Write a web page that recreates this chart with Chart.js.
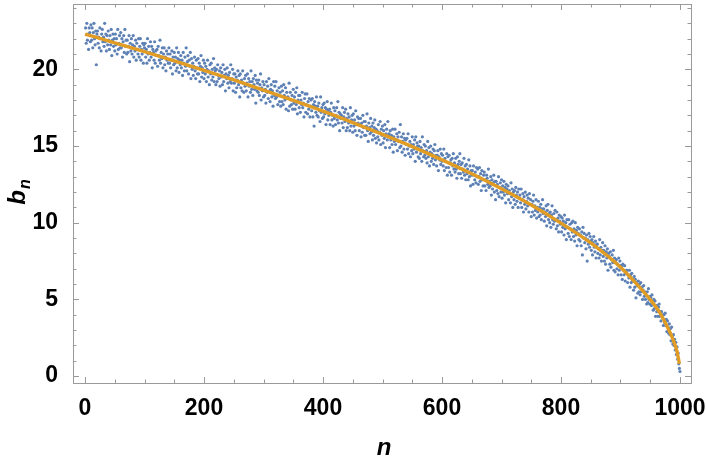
<!DOCTYPE html>
<html>
<head>
<meta charset="utf-8">
<script src="https://cdn.jsdelivr.net/npm/chart.js@4.4.1/dist/chart.umd.min.js"></script>
<style>
  html, body { margin: 0; padding: 0; background: #fff; }
  canvas { display: block; }
</style>
</head>
<body>
<canvas id="chart" width="706" height="463"></canvas>
<script>
// b_n, n = 1..1000, one block per hundred
var b001 = [
  22.7,21.7,23.0,21.9,22.3,21.3,22.7,22.4,21.8,22.9,
  21.9,22.7,21.4,22.4,23.0,22.0,21.6,22.5,20.3,22.3,
  22.5,21.7,22.1,21.4,22.7,22.0,21.2,22.3,22.6,21.8,
  22.1,21.5,23.0,21.8,22.3,21.2,22.2,21.6,22.5,21.9,
  21.3,22.2,21.6,22.6,20.9,21.9,22.3,21.5,22.0,21.2,
  22.3,21.6,22.0,21.0,22.6,21.3,21.7,22.2,21.4,22.4,
  21.4,22.0,20.8,21.8,22.2,21.1,22.6,21.5,21.9,21.0,
  21.9,21.1,21.5,22.2,20.5,21.7,21.2,22.0,21.0,21.6,
  22.2,20.8,21.5,21.2,21.9,20.6,21.7,21.3,21.0,22.0,
  20.8,21.5,22.0,20.6,21.3,21.0,21.7,20.4,21.6,21.4
];
var b101 = [
  21.7,20.8,21.3,20.4,22.0,21.0,21.5,20.6,21.1,21.8,
  20.8,21.5,20.1,21.3,21.1,20.6,21.8,20.4,21.2,20.9,
  21.3,20.2,21.5,20.9,20.6,21.9,20.4,21.1,20.7,21.4,
  20.1,21.0,21.4,20.3,20.8,19.9,21.2,20.6,21.0,20.4,
  21.4,20.4,21.0,20.1,20.6,21.2,19.7,20.8,20.3,21.1,
  20.4,20.8,19.9,21.4,20.1,20.7,21.1,19.8,20.6,20.3,
  20.9,20.1,20.6,19.6,21.1,20.4,19.9,20.8,20.2,21.4,
  19.9,20.5,20.9,19.7,20.6,20.2,21.1,19.4,20.7,20.0,
  20.4,19.6,20.2,20.8,19.9,19.4,20.6,20.1,19.7,20.7,
  19.7,20.4,19.2,20.2,20.9,19.5,20.1,19.8,20.6,19.4
];
var b201 = [
  20.4,19.7,20.2,19.2,20.0,20.6,19.5,19.9,19.0,20.3,
  19.7,20.4,19.3,20.0,19.5,20.7,19.2,20.1,19.9,19.0,
  20.0,19.2,20.3,19.6,19.4,19.9,18.9,20.1,19.5,19.8,
  19.0,20.3,19.2,19.6,20.0,18.6,19.7,19.4,20.1,19.1,
  19.6,18.8,19.8,19.2,20.3,19.1,19.4,20.0,18.6,19.7,
  19.1,19.7,18.5,19.5,18.8,19.3,19.9,19.0,19.6,18.2,
  19.7,18.8,19.3,18.6,19.9,19.1,18.5,19.4,18.9,19.6,
  18.6,19.1,19.7,18.2,19.4,18.9,19.2,18.5,19.9,18.7,
  19.2,18.3,19.4,19.0,18.7,19.6,17.8,19.3,18.6,19.1,
  18.5,19.3,18.3,19.0,19.7,18.0,18.8,18.6,19.2,18.2
];
var b301 = [
  19.0,18.3,18.7,17.8,19.2,18.5,18.9,18.1,19.4,18.6,
  17.9,18.7,19.0,18.2,18.6,17.6,19.2,18.3,18.9,18.1,
  19.2,18.2,18.6,17.7,18.3,18.8,17.9,18.5,17.6,18.9,
  17.9,18.6,17.7,19.0,18.3,18.0,18.8,17.4,18.5,18.1,
  18.2,17.3,19.1,17.6,18.5,18.0,17.7,18.3,17.4,18.7,
  17.8,18.2,17.4,18.5,17.7,18.8,17.1,18.0,18.3,17.5,
  18.3,17.2,18.0,17.7,18.5,17.5,17.8,16.9,18.1,18.4,
  17.2,17.7,18.4,17.1,17.9,17.4,18.1,16.9,17.6,18.0,
  17.3,18.1,16.9,17.7,16.3,17.9,17.6,17.2,18.2,17.0,
  17.6,16.9,17.8,17.3,16.6,18.2,17.2,17.5,16.8,17.7
];
var b401 = [
  16.9,17.8,17.1,17.5,16.4,17.4,17.9,16.7,17.3,17.0,
  17.4,16.4,17.2,17.8,16.7,17.0,16.3,17.5,16.8,17.3,
  16.4,17.0,17.5,16.7,17.9,16.5,17.2,16.0,17.1,16.8,
  17.0,16.5,17.5,16.2,16.9,17.2,16.6,17.4,16.0,16.8,
  16.2,17.1,16.5,16.9,16.0,17.5,16.3,16.7,17.0,15.9,
  17.1,16.3,16.7,16.0,17.3,16.4,15.7,16.9,16.5,16.8,
  16.0,16.4,16.8,15.6,16.5,15.9,17.0,16.2,16.6,15.7,
  16.6,15.7,16.3,17.1,16.0,15.3,16.5,16.2,15.8,16.8,
  15.9,16.3,15.4,16.5,15.7,16.2,16.7,15.5,16.1,15.2,
  16.0,15.6,16.4,15.4,15.9,16.6,15.1,16.1,15.7,16.3
];
var b501 = [
  15.2,16.0,15.5,16.4,14.9,15.8,16.1,15.4,16.6,15.7,
  15.8,14.9,16.0,15.4,15.7,15.1,16.1,14.6,15.6,15.3,
  16.1,15.1,15.4,15.8,14.7,15.6,15.3,15.9,14.9,16.4,
  15.0,15.6,14.6,15.3,15.8,14.8,15.5,14.4,15.4,15.1,
  15.5,14.8,15.8,14.5,15.0,15.3,14.3,15.1,14.7,15.6,
  14.5,15.1,14.8,15.4,14.0,15.6,14.6,15.2,15.0,14.3,
  15.0,14.2,15.3,14.5,14.9,14.0,15.6,14.7,14.3,15.1,
  14.4,15.0,14.2,14.7,13.9,15.3,14.3,14.9,13.7,14.6,
  15.0,14.0,14.5,14.2,14.8,13.8,14.7,15.1,14.1,14.4,
  13.7,14.4,14.7,13.4,14.3,14.1,14.8,13.8,14.5,14.0
];
var b601 = [
  14.4,13.7,14.8,13.4,14.2,14.0,13.6,14.5,13.1,14.3,
  13.6,14.4,13.3,13.9,14.1,13.1,14.2,13.7,14.5,13.5,
  13.9,13.3,14.2,13.5,12.9,14.3,13.8,13.2,14.0,14.5,
  13.2,13.8,12.9,13.9,13.5,13.3,14.2,13.1,13.7,12.8,
  13.8,13.2,13.5,12.8,14.1,13.0,13.7,12.4,13.4,13.1,
  13.4,12.5,13.7,13.1,12.8,13.3,12.6,13.6,13.0,13.5,
  12.5,13.0,13.6,12.7,13.2,12.1,13.4,12.8,12.4,13.1,
  13.3,12.4,12.8,12.1,13.1,12.9,12.5,13.5,12.3,12.7,
  12.4,13.0,11.8,12.8,12.2,12.6,13.1,12.0,12.7,11.5,
  12.7,12.1,12.5,11.9,13.0,11.7,12.3,12.6,12.0,12.8
];
var b701 = [
  11.6,12.4,12.0,12.7,11.8,12.3,11.3,12.5,12.2,11.9,
  12.4,11.5,12.1,11.9,11.3,12.6,11.7,12.2,11.0,12.0,
  11.5,12.1,11.2,12.3,11.8,11.4,12.0,11.0,12.2,11.6,
  11.8,11.3,12.2,11.0,11.5,11.9,10.7,11.7,11.2,12.0,
  10.9,11.4,11.8,11.1,11.6,10.7,11.9,11.2,11.5,10.4,
  11.2,10.7,11.4,11.8,10.5,11.1,10.8,11.5,10.3,11.0,
  10.7,11.4,10.4,11.0,10.5,11.2,10.2,10.9,11.5,10.6,
  10.9,10.1,10.7,10.4,11.1,9.8,10.8,11.2,10.2,10.6,
  10.0,10.7,9.7,10.5,11.1,10.2,9.9,10.6,10.1,10.8,
  10.2,9.6,10.7,9.8,10.3,9.4,10.5,10.1,9.9,10.4
];
var b801 = [
  9.4,10.3,9.7,10.1,9.2,10.5,9.6,10.0,8.9,10.2,
  9.7,9.3,10.2,9.1,9.9,9.6,8.9,10.0,9.4,10.1,
  9.1,9.6,8.8,10.0,9.2,9.5,8.5,9.7,9.3,8.9,
  9.6,8.8,9.2,8.5,9.4,7.9,9.7,9.0,9.3,8.7,
  9.0,8.3,9.2,7.5,8.9,8.6,9.3,8.4,9.1,8.8,
  8.2,8.9,7.9,8.7,9.1,8.4,8.1,8.8,7.7,8.6,
  8.6,8.0,8.3,7.7,8.9,7.9,8.4,7.5,8.2,8.7,
  7.8,8.2,7.5,8.5,7.3,8.1,7.7,8.3,6.9,8.0,
  7.8,7.3,8.1,7.1,7.6,7.9,7.4,8.2,6.9,7.7,
  6.8,7.4,7.6,7.0,7.3,6.6,7.7,6.9,7.5,7.2
];
var b901 = [
  6.6,7.2,6.3,7.3,6.9,6.6,7.2,6.2,6.7,6.9,
  6.9,6.1,6.6,6.4,6.9,5.8,6.6,6.1,6.7,6.2,
  6.3,5.6,6.5,5.8,6.3,5.1,6.1,5.9,5.4,6.2,
  5.5,6.0,5.3,6.1,5.5,5.8,5.0,5.6,5.9,5.2,
  5.5,5.0,5.3,4.7,5.5,4.8,5.7,5.0,4.7,5.2,
  5.1,4.6,5.3,4.8,4.3,5.0,4.4,4.9,3.9,4.6,
  4.2,4.6,3.9,4.5,4.7,3.9,4.2,3.6,4.2,3.9,
  4.0,3.3,4.0,3.5,4.1,3.3,3.7,2.9,3.6,3.2,
  2.8,3.4,2.7,3.1,2.3,3.2,2.6,2.1,2.7,2.0,
  2.4,1.7,2.2,1.4,1.9,1.1,1.5,0.8,0.5,0.3
];
var bValues = [].concat(b001, b101, b201, b301, b401, b501, b601, b701, b801, b901);

// fitted curve, read at these n
var fitN = [0, 50, 100, 150, 200, 250, 300, 350, 400, 450, 500, 550, 600, 650, 700,
            750, 800, 850, 900, 925, 950, 965, 975, 985, 990, 995, 999];
var fitB = [22.3, 21.73, 21.15, 20.55, 19.94, 19.31, 18.65, 17.97, 17.27, 16.53, 15.76,
            14.96, 14.10, 13.19, 12.21, 11.15, 9.97, 8.68, 7.1, 6.1, 4.99, 4.2, 3.5,
            2.7, 2.2, 1.6, 0.8];

var xTickValues = [0, 200, 400, 600, 800, 1000];
var yTickValues = [0, 5, 10, 15, 20];

var blue = '#5e81b5';
var orange = '#e19c24';
var frameColor = '#9a9a9a';
var fontFamily = '"Liberation Sans", Arial, sans-serif';
var tickFont = { family: fontFamily, size: 23, weight: 'bold' };

// frame, inward ticks and the two axis labels
var framePlugin = {
    id: 'frame',
    afterDraw: function (chart) {
        var ctx = chart.ctx;
        var a = chart.chartArea;
        var xs = chart.scales.x, ys = chart.scales.y;
        ctx.save();
        ctx.strokeStyle = frameColor;
        ctx.lineWidth = 1;
        ctx.beginPath();
        for (var v = 0; v <= 1000; v += 50) {
            var px = Math.round(xs.getPixelForValue(v)) + 0.5;
            var len = (v % 200 === 0) ? 6 : 3.5;
            ctx.moveTo(px, a.bottom); ctx.lineTo(px, a.bottom - len);
            ctx.moveTo(px, a.top); ctx.lineTo(px, a.top + len);
        }
        for (var w = 0; w <= 24; w++) {
            var py = Math.round(ys.getPixelForValue(w)) + 0.5;
            var ln = (w % 5 === 0) ? 6 : 3.5;
            ctx.moveTo(a.left, py); ctx.lineTo(a.left + ln, py);
            ctx.moveTo(a.right, py); ctx.lineTo(a.right - ln, py);
        }
        ctx.stroke();
        ctx.strokeRect(Math.round(a.left) + 0.5, Math.round(a.top) + 0.5,
            Math.round(a.right - a.left), Math.round(a.bottom - a.top));

        ctx.fillStyle = '#000';
        ctx.textBaseline = 'alphabetic';
        ctx.font = 'italic bold 24px ' + fontFamily;
        ctx.textAlign = 'center';
        ctx.fillText('n', (a.left + a.right) / 2 + 2, 455);

        // b with subscript n, rotated
        ctx.translate(25, 192);
        ctx.rotate(-Math.PI / 2);
        ctx.textAlign = 'left';
        ctx.font = 'italic bold 24px ' + fontFamily;
        var wb = ctx.measureText('b').width;
        ctx.font = 'italic bold 16px ' + fontFamily;
        var wn = ctx.measureText('n').width;
        var x0 = -(wb + wn + 1) / 2;
        ctx.font = 'italic bold 24px ' + fontFamily;
        ctx.fillText('b', x0, 0);
        ctx.font = 'italic bold 16px ' + fontFamily;
        ctx.fillText('n', x0 + wb + 1, 5);
        ctx.restore();
    }
};

var scatterData = bValues.map(function (b, i) { return { x: i + 1, y: b }; });
var fitData = fitN.map(function (n, i) { return { x: n, y: fitB[i] }; });

new Chart(document.getElementById('chart'), {
    type: 'scatter',
    data: {
        datasets: [
            {
                type: 'line',
                data: fitData,
                borderColor: orange,
                borderWidth: 3.4,
                pointRadius: 0,
                cubicInterpolationMode: 'monotone',
                fill: false,
                order: 0
            },
            {
                data: scatterData,
                backgroundColor: blue,
                borderWidth: 0,
                pointRadius: 1.6,
                order: 1
            }
        ]
    },
    options: {
        responsive: false,
        animation: false,
        events: [],
        layout: { padding: { top: 1, right: 15, left: 0, bottom: 0 } },
        plugins: { legend: { display: false }, tooltip: { enabled: false } },
        scales: {
            x: {
                type: 'linear',
                min: -20.2,
                max: 1018.5,
                grid: { display: false },
                border: { display: false },
                afterBuildTicks: function (s) {
                    s.ticks = xTickValues.map(function (v) { return { value: v }; });
                },
                afterFit: function (s) {
                    s.height = 80;
                    s.paddingLeft = 0;
                    s.paddingRight = 0;
                },
                ticks: {
                    autoSkip: false,
                    maxRotation: 0,
                    padding: 4,
                    color: '#000',
                    font: tickFont,
                    callback: function (v) { return String(v); }
                }
            },
            y: {
                type: 'linear',
                min: -0.45,
                max: 24.26,
                grid: { display: false },
                border: { display: false },
                afterBuildTicks: function (s) {
                    s.ticks = yTickValues.map(function (v) { return { value: v }; });
                },
                afterFit: function (s) {
                    s.width = 73;
                    s.paddingTop = 0;
                    s.paddingBottom = 0;
                },
                ticks: {
                    autoSkip: false,
                    padding: 7,
                    color: '#000',
                    font: tickFont,
                    callback: function (v) { return String(v); }
                }
            }
        }
    },
    plugins: [framePlugin]
});
</script>
</body>
</html>
